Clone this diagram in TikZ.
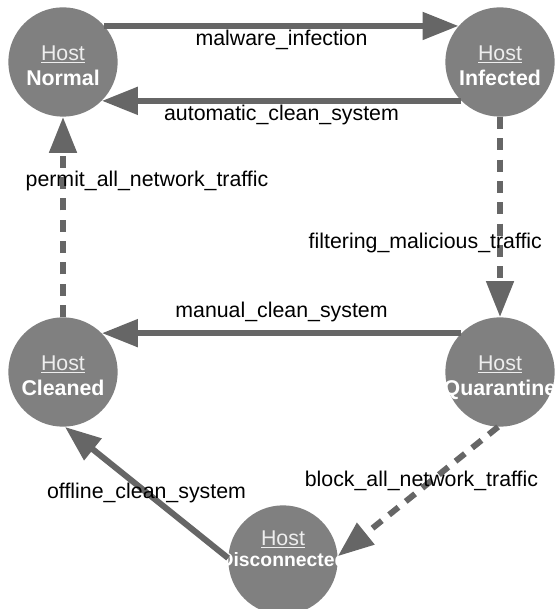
\documentclass[tikz,border=0pt]{standalone}
\usepackage{fontspec}
\setmainfont{Liberation Sans}
\usetikzlibrary{arrows.meta}
\definecolor{hostfill}{HTML}{808080}
\definecolor{edgegray}{HTML}{666666}
\definecolor{hostline}{HTML}{EEEEEE}
\newcommand{\hostof}[1]{\textcolor{hostline}{\underline{Host}}\\\makebox[0pt]{\textbf{#1}}\\[-24pt]\mbox{}}
\begin{document}
\begin{tikzpicture}[x=0.75pt,y=-0.75pt,
    state node/.style={circle,fill=hostfill,text=white,minimum size=82pt,inner sep=0pt,align=center,font=\fontsize{16}{18.75}\selectfont},
    trans/.style={draw=edgegray,line width=4.5pt,-{Triangle[length=27pt,width=20pt]}},
    dashtrans/.style={trans,dash pattern=on 9pt off 7pt},
    lbl/.style={text=black,inner sep=1pt,font=\fontsize{16}{18.75}\selectfont}]
                \useasboundingbox (0,0) rectangle (556,609);
                \node[state node] at (63, 62) (normal) {\hostof{Normal}};
                \node[state node] at (500, 62) (infected) {\hostof{Infected}};
                \node[state node] at (63, 372) (cleaned) {\hostof{Cleaned}};
                \node[state node] at (500, 372) (quarantine) {\hostof{Quarantine}};
                \node[state node,font=\fontsize{16}{15.75}\selectfont] at (283, 560) (disconnected) {\textcolor{hostline}{\underline{Host}}\\\makebox[0pt]{\fontsize{14.5}{15.75}\selectfont\textbf{Disconnected}}\\[2pt]\mbox{}};

                \path (normal.41) edge[trans] node [lbl,below] {malware\_infection} (infected.139);
                \path (infected.-135) edge[trans] node [lbl,below] {automatic\_clean\_system} (normal.-45);
                \path (infected.south) edge[dashtrans] node [lbl,pos=0.63,xshift=-56pt] {filtering\_malicious\_traffic} (quarantine.north);
                \path (cleaned.north) edge[dashtrans] node [lbl,pos=0.68,xshift=63pt] {permit\_all\_network\_traffic} (normal.south);
                \path (quarantine.135) edge[trans] node [lbl,above,yshift=5pt] {manual\_clean\_system} (cleaned.45);
                \path (quarantine.-92) edge[dashtrans] node [lbl,pos=0.42,xshift=-7pt] {block\_all\_network\_traffic} (disconnected.4);
                \path (disconnected.178) edge[trans] node [lbl] {offline\_clean\_system} (cleaned.-88);
            \end{tikzpicture}
\end{document}
